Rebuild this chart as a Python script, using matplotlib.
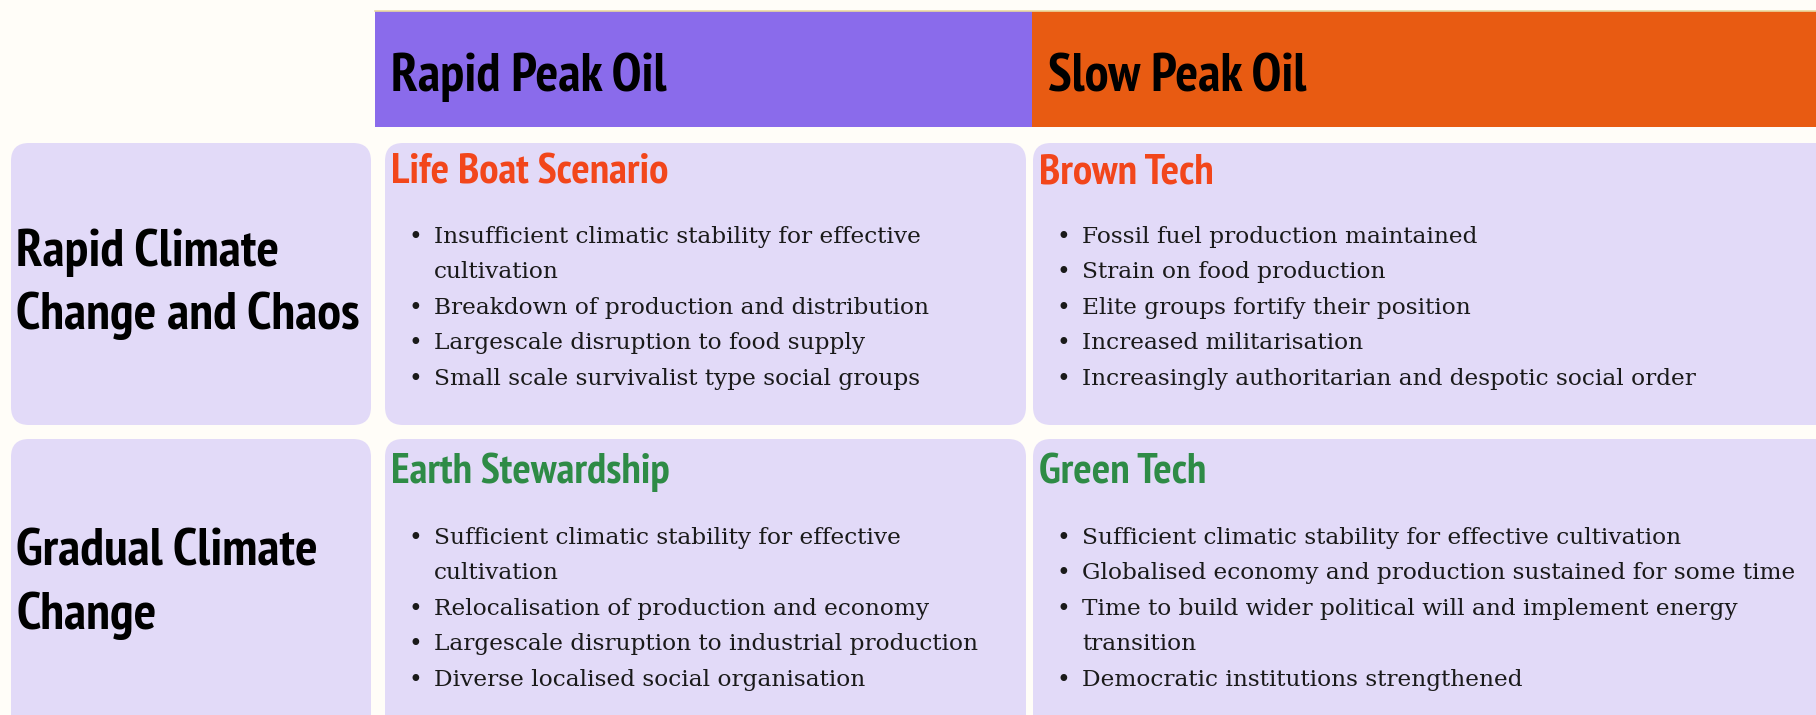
import os
import matplotlib
matplotlib.use("Agg")
import matplotlib.pyplot as plt
from matplotlib.patches import FancyBboxPatch, Rectangle
from matplotlib import font_manager as fm
from matplotlib.font_manager import FontProperties
from matplotlib.textpath import TextPath

# ---- content ----
col_headers = ["Rapid Peak Oil", "Slow Peak Oil"]
row_headers = [["Rapid Climate", "Change and Chaos"], ["Gradual Climate", "Change"]]
cell_titles = [["Life Boat Scenario", "Brown Tech"],
               ["Earth Stewardship", "Green Tech"]]
title_kind = [["bad", "bad"], ["good", "good"]]
cell_items = [
    [
        ["Insufficient climatic stability for effective\ncultivation",
         "Breakdown of production and distribution",
         "Largescale disruption to food supply",
         "Small scale survivalist type social groups"],
        ["Fossil fuel production maintained",
         "Strain on food production",
         "Elite groups fortify their position",
         "Increased militarisation",
         "Increasingly authoritarian and despotic social order"],
    ],
    [
        ["Sufficient climatic stability for effective\ncultivation",
         "Relocalisation of production and economy",
         "Largescale disruption to industrial production",
         "Diverse localised social organisation"],
        ["Sufficient climatic stability for effective cultivation",
         "Globalised economy and production sustained for some time",
         "Time to build wider political will and implement energy\ntransition",
         "Democratic institutions strengthened"],
    ],
]

# ---- style ----
W, H = 1816, 715
BG = "#FFFDF8"
HEAD_COLORS = ["#8A6BEB", "#E85B12"]
CELL_BG = "#E2DAF8"
TITLE_COLORS = {"bad": "#F2461B", "good": "#2E8B46"}
TEXT = "#1A1A1A"


def pick_condensed_bold():
    best, best_score = None, 99
    for f in fm.fontManager.ttflist:
        fn = os.path.basename(f.fname).lower()
        nm = f.name.lower()
        if "italic" in fn or "oblique" in fn:
            continue
        bold = ("bold" in fn) or (str(f.weight) in ("bold", "700", "heavy", "black"))
        if not bold or "semibold" in fn or "extrabold" in fn:
            continue
        if "oswald" in nm:
            s = 0
        elif "narrow" in nm or "narrow" in fn:
            s = 1
        elif "roboto" in nm and "condensed" in (nm + fn):
            s = 2
        elif "condensed" in (nm + fn) and "dejavu sans" in nm and "mono" not in fn:
            s = 4
        elif "condensed" in (nm + fn):
            s = 3
        else:
            continue
        if s < best_score:
            best, best_score = f.fname, s
    if best is None:
        return FontProperties(family="DejaVu Sans", weight="bold", stretch="condensed")
    return FontProperties(fname=best)


COND_FP = pick_condensed_bold()
SERIF_FP = FontProperties(family="DejaVu Serif")
PX = 100 / 72.0


def ratios(fp, s):
    w = TextPath((0, 0), s, size=1, prop=fp).get_extents().width
    cap = TextPath((0, 0), "H", size=1, prop=fp).get_extents().height
    return w, cap


def fit_size(fp, s, target_w, target_cap, wexp=0.6):
    w, cap = ratios(fp, s)
    sw = target_w / (w * PX)
    sh = target_cap / (cap * PX)
    size = sw ** wexp * sh ** (1 - wexp)
    return min(size, sw * 1.04)


HEAD_SIZE = fit_size(COND_FP, "Rapid Peak Oil", 276, 37)
LABEL_SIZE = fit_size(COND_FP, "Change and Chaos", 342, 37)
TITLE_SIZE = fit_size(COND_FP, "Life Boat Scenario", 281, 29)
BODY_SIZE = fit_size(SERIF_FP, "Increasingly authoritarian and despotic social order", 615, 17, 0.8)

fig = plt.figure(figsize=(W / 100, H / 100), dpi=100, facecolor=BG)
ax = fig.add_axes([0, 0, 1, 1])
ax.set_xlim(0, W)
ax.set_ylim(H, 0)
ax.axis("off")
ax.set_facecolor(BG)

# layout (pixels)
col_x = [(375, 1032), (1032, 1830)]
cell_x = [(385, 1026), (1033, 1840)]
row_y = [(143, 425), (439, 740)]
label_x = (11, 371)
head_y = (11, 127)
R = 18


def cond_text(x, y, s, size, color):
    fp = COND_FP.copy()
    fp.set_size(size)
    ax.text(x, y, s, fontproperties=fp, color=color, va="baseline", ha="left")


def body_text(x, y, s):
    fp = SERIF_FP.copy()
    fp.set_size(BODY_SIZE)
    ax.text(x, y, s, fontproperties=fp, color=TEXT, va="baseline", ha="left")


# header bands
for (x0, x1), c, name in zip(col_x, HEAD_COLORS, col_headers):
    ax.add_patch(Rectangle((x0, head_y[0]), x1 - x0, head_y[1] - head_y[0],
                           facecolor=c, edgecolor="none"))
    cond_text(x0 + 16, 91, name, HEAD_SIZE, "black")
ax.plot([col_x[0][0], W], [head_y[0], head_y[0]], color="#EAD9A0", lw=1.2)


def rbox(x0, x1, y0, y1):
    ax.add_patch(FancyBboxPatch((x0, y0), x1 - x0, y1 - y0,
                                boxstyle=f"round,pad=0,rounding_size={R}",
                                facecolor=CELL_BG, edgecolor="none"))


title_base = [183, 483]
label_base = [[266, 329], [565, 629]]
item_base0 = [243, 544]
LINE = 35.4

for r in range(2):
    y0, y1 = row_y[r]
    rbox(label_x[0], label_x[1], y0, y1)
    for line, yb in zip(row_headers[r], label_base[r]):
        cond_text(16, yb, line, LABEL_SIZE, "black")
    for c in range(2):
        x0, x1 = cell_x[c]
        rbox(x0, x1, y0, y1)
        cond_text(x0 + 6, title_base[r], cell_titles[r][c], TITLE_SIZE,
                  TITLE_COLORS[title_kind[r][c]])
        yb = item_base0[r]
        for item in cell_items[r][c]:
            body_text(x0 + 24, yb, "\u2022")
            for ln in item.split("\n"):
                body_text(x0 + 49, yb, ln)
                yb += LINE

fig.savefig("out.png", dpi=100, facecolor=BG)
